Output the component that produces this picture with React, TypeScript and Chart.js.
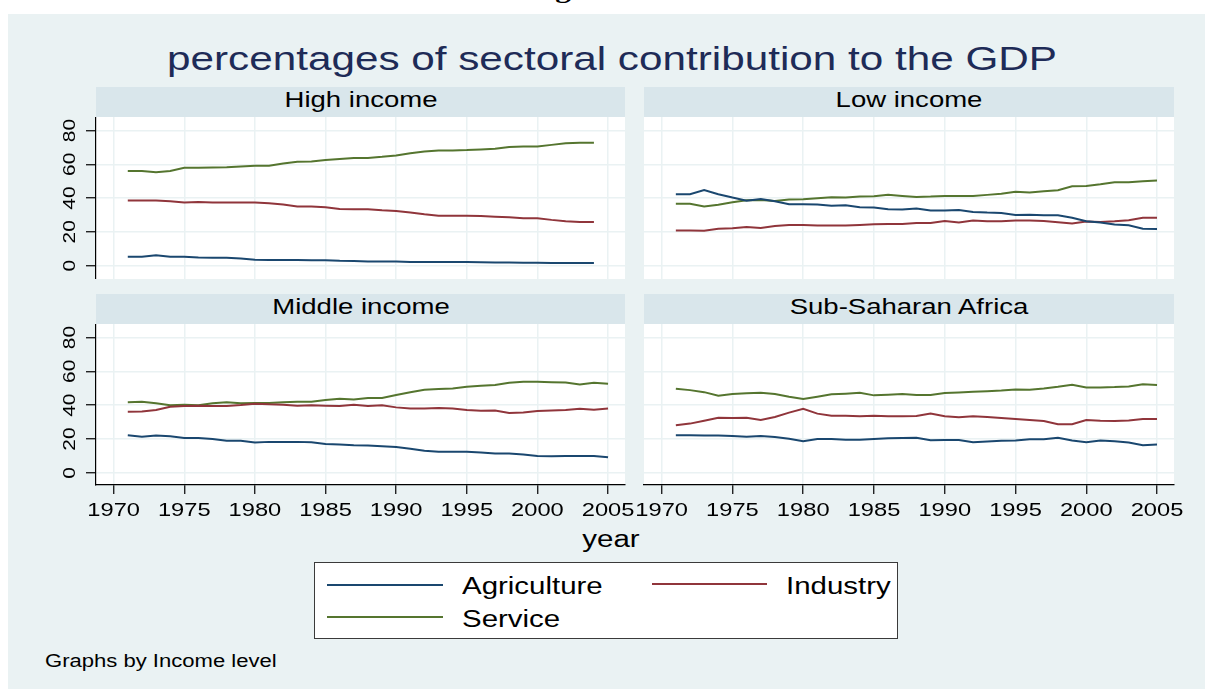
import React, { useEffect, useRef } from 'react';
import { Chart, registerables } from 'chart.js';

Chart.register(...registerables);

// ---------------- data ----------------
const YEARS = [
  1971, 1972, 1973, 1974, 1975, 1976, 1977, 1978, 1979, 1980,
  1981, 1982, 1983, 1984, 1985, 1986, 1987, 1988, 1989, 1990,
  1991, 1992, 1993, 1994, 1995, 1996, 1997, 1998, 1999, 2000,
  2001, 2002, 2003, 2004, 2005,
];
const X_TICKS = [1970, 1975, 1980, 1985, 1990, 1995, 2000, 2005];
const Y_TICKS = [0, 20, 40, 60, 80];
const SERIES_NAMES = ['Agriculture', 'Industry', 'Service'];
const PANEL_NAMES = ['High income', 'Low income', 'Middle income', 'Sub-Saharan Africa'];

// High income (1971-2004)
const HIGH_AGRI = [5.3, 5.3, 6.1, 5.3, 5.3, 4.9, 4.7, 4.7, 4.3, 3.5, 3.4, 3.4, 3.4, 3.2, 3.2, 2.9, 2.8, 2.5, 2.4, 2.4, 2.2, 2.2, 2.1, 2.1, 2.1, 2.0, 1.9, 1.8, 1.7, 1.7, 1.6, 1.6, 1.6, 1.6];
const HIGH_IND = [38.5, 38.5, 38.5, 38.1, 37.4, 37.7, 37.4, 37.4, 37.4, 37.4, 37.0, 36.2, 35.0, 35.0, 34.6, 33.6, 33.4, 33.4, 32.8, 32.4, 31.4, 30.4, 29.6, 29.6, 29.6, 29.4, 29.0, 28.7, 28.1, 28.1, 27.1, 26.3, 25.9, 25.9];
const HIGH_SERV = [56.1, 56.0, 55.3, 56.1, 57.9, 57.9, 58.1, 58.3, 58.7, 59.1, 59.1, 60.5, 61.5, 61.7, 62.5, 63.2, 63.8, 63.8, 64.4, 65.2, 66.6, 67.6, 68.2, 68.2, 68.4, 68.8, 69.2, 70.2, 70.6, 70.6, 71.5, 72.5, 72.7, 72.7];

// Low income (1971-2005)
const LOW_AGRI = [42.3, 42.3, 44.7, 42.3, 40.3, 38.5, 39.5, 38.1, 36.4, 36.4, 36.2, 35.4, 35.8, 34.6, 34.4, 33.4, 33.2, 33.8, 32.6, 32.6, 33.0, 31.8, 31.4, 31.2, 30.0, 30.2, 29.8, 29.8, 28.3, 26.3, 25.5, 24.3, 23.9, 21.9, 21.7];
const LOW_IND = [20.8, 20.8, 20.6, 21.9, 22.1, 22.9, 22.3, 23.5, 24.1, 24.1, 23.7, 23.7, 23.7, 24.1, 24.5, 24.7, 24.7, 25.3, 25.3, 26.5, 25.5, 26.7, 26.3, 26.3, 26.7, 26.7, 26.5, 25.7, 24.9, 26.1, 25.9, 26.3, 26.9, 28.3, 28.3];
const LOW_SERV = [36.6, 36.6, 35.0, 36.0, 37.5, 38.7, 38.9, 38.3, 39.1, 39.3, 39.9, 40.5, 40.3, 40.9, 41.1, 41.9, 41.3, 40.7, 40.9, 41.3, 41.3, 41.3, 41.9, 42.5, 43.7, 43.3, 44.1, 44.7, 47.0, 47.2, 48.2, 49.4, 49.4, 50.0, 50.4];

// Middle income (1971-2005)
const MID_AGRI = [22.2, 21.4, 22.0, 21.6, 20.6, 20.6, 20.0, 18.9, 18.9, 17.9, 18.3, 18.3, 18.3, 18.1, 17.1, 16.7, 16.3, 16.1, 15.7, 15.3, 14.3, 13.0, 12.4, 12.4, 12.4, 12.0, 11.4, 11.4, 10.8, 10.0, 9.8, 10.0, 10.0, 10.0, 9.2];
const MID_IND = [36.1, 36.3, 37.1, 39.1, 39.5, 39.7, 39.5, 39.5, 40.1, 40.9, 40.5, 40.3, 39.7, 39.9, 39.7, 39.5, 40.3, 39.5, 39.9, 38.7, 38.1, 38.1, 38.3, 38.1, 37.1, 36.7, 36.9, 35.4, 35.6, 36.5, 36.9, 37.1, 37.9, 37.3, 38.1];
const MID_SERV = [41.7, 42.0, 41.1, 39.9, 40.3, 39.9, 41.1, 41.7, 41.1, 41.3, 41.3, 41.7, 42.0, 42.0, 43.0, 43.8, 43.4, 44.2, 44.2, 46.0, 47.7, 49.1, 49.5, 49.9, 50.9, 51.5, 51.9, 53.2, 53.8, 53.8, 53.6, 53.4, 52.3, 53.2, 52.7];

// Sub-Saharan Africa (1971-2005)
const SSA_AGRI = [22.2, 22.2, 22.0, 22.0, 21.8, 21.4, 21.8, 21.2, 20.2, 18.7, 20.0, 20.0, 19.6, 19.6, 20.0, 20.4, 20.6, 20.8, 19.3, 19.4, 19.4, 18.1, 18.5, 18.9, 19.1, 19.8, 19.8, 20.8, 19.1, 18.1, 19.1, 18.7, 17.9, 16.3, 16.7];
const SSA_IND = [28.1, 29.1, 30.8, 32.6, 32.4, 32.6, 31.2, 33.0, 35.6, 37.9, 35.0, 33.8, 33.8, 33.4, 33.8, 33.4, 33.4, 33.6, 35.0, 33.4, 32.8, 33.4, 33.0, 32.4, 31.8, 31.2, 30.6, 28.7, 28.7, 31.2, 30.8, 30.6, 31.0, 31.8, 31.8];
const SSA_SERV = [49.7, 48.9, 47.7, 45.6, 46.6, 47.0, 47.3, 46.6, 45.0, 43.6, 45.0, 46.4, 46.8, 47.3, 45.8, 46.2, 46.6, 46.0, 46.0, 47.2, 47.5, 47.9, 48.3, 48.7, 49.3, 49.1, 49.9, 50.9, 52.1, 50.5, 50.5, 50.7, 51.1, 52.3, 51.9];

// ---------------- style ----------------
const COLORS = ['#1A476F', '#90353B', '#55752F'];
const PAGE_BG = '#EAF2F3';
const HEADER_BG = '#D9E6EB';
const GRID = '#EAF2F3';
const FONT = '"Liberation Sans", Arial, Helvetica, sans-serif';
const STRETCH = 1.28;

const decoPlugin = {
  id: 'deco',
  beforeDraw(chart: any) {
    const { ctx, chartArea: a } = chart;
    ctx.save();
    ctx.fillStyle = '#ffffff';
    ctx.fillRect(a.left, a.top, a.right - a.left, a.bottom - a.top);
    ctx.restore();
  },
  afterDraw(chart: any, _args: any, opts: any) {
    const { ctx, chartArea: a } = chart;
    ctx.save();
    ctx.fillStyle = '#000';
    ctx.textBaseline = 'alphabetic';
    ctx.textAlign = 'center';
    if (opts.xLabels) {
      const sc = chart.scales.x;
      ctx.font = `18.5px ${FONT}`;
      sc.ticks.forEach((t: any) => {
        const px = sc.getPixelForValue(t.value);
        ctx.save();
        ctx.translate(px, a.bottom + 30.7);
        ctx.scale(STRETCH, 1);
        ctx.fillText(String(t.value), 0, 0);
        ctx.restore();
      });
    }
    if (opts.yLabels) {
      const sc = chart.scales.y;
      ctx.font = `16.5px ${FONT}`;
      sc.ticks.forEach((t: any) => {
        const py = sc.getPixelForValue(t.value);
        ctx.save();
        ctx.translate(a.left - 21, py);
        ctx.rotate(-Math.PI / 2);
        ctx.scale(1.27, 1);
        ctx.fillText(String(t.value), 0, 0);
        ctx.restore();
      });
    }
    ctx.restore();
  },
};

type PanelCfg = {
  name: string;
  series: number[][];
  x: number; y: number; w: number; h: number;
  padL: number; padR: number;
  showY: boolean; showX: boolean;
  yMin: number;
};

function Panel({ cfg }: { cfg: PanelCfg }) {
  const ref = useRef<HTMLCanvasElement>(null);
  useEffect(() => {
    const chart = new Chart(ref.current as HTMLCanvasElement, {
      type: 'line',
      data: {
        datasets: cfg.series.map((vals, si) => ({
          label: SERIES_NAMES[si],
          data: vals.map((v, i) => ({ x: YEARS[i], y: v })),
          borderColor: COLORS[si],
          backgroundColor: COLORS[si],
          borderWidth: 2,
          pointRadius: 0,
          tension: 0,
          fill: false,
        })),
      },
      options: {
        animation: false,
        responsive: false,
        maintainAspectRatio: false,
        devicePixelRatio: 1,
        layout: { padding: { left: cfg.padL, right: cfg.padR, top: 0, bottom: 0 } },
        plugins: {
          legend: { display: false },
          tooltip: { enabled: false },
          title: { display: false },
          deco: { xLabels: cfg.showX, yLabels: cfg.showY },
        } as any,
        scales: {
          x: {
            type: 'linear',
            min: 1968.75,
            max: 2006.2,
            afterBuildTicks: (s: any) => { s.ticks = X_TICKS.map((v) => ({ value: v })); },
            afterFit: (s: any) => { s.height = cfg.showX ? 40 : 0; },
            ticks: { display: false },
            grid: { color: GRID, lineWidth: 1.5, drawTicks: cfg.showX, tickLength: 9, tickColor: '#000', tickWidth: 1.2 },
            border: { display: cfg.showX, color: '#000', width: 1.2 },
          },
          y: {
            type: 'linear',
            min: cfg.yMin,
            max: 88,
            afterBuildTicks: (s: any) => { s.ticks = Y_TICKS.map((v) => ({ value: v })); },
            afterFit: (s: any) => { s.width = cfg.showY ? 56 : 0; },
            ticks: { display: false },
            grid: { color: GRID, lineWidth: 1.5, drawTicks: cfg.showY, tickLength: 10, tickColor: '#000', tickWidth: 1.2 },
            border: { display: cfg.showY, color: '#000', width: 1.2 },
          },
        } as any,
      },
      plugins: [decoPlugin as any],
    });
    return () => chart.destroy();
  }, []);
  return (
    <canvas
      ref={ref}
      width={cfg.w}
      height={cfg.h}
      style={{ position: 'absolute', left: cfg.x, top: cfg.y, width: cfg.w, height: cfg.h }}
    />
  );
}

function Txt(props: {
  x: number; y: number; s: string; fs: number; sx?: number; align?: 'center' | 'left';
  color?: string; family?: string; weight?: number;
}) {
  const { x, y, s, fs, sx = STRETCH, align = 'center', color = '#000', family = FONT, weight = 400 } = props;
  const style: React.CSSProperties = {
    position: 'absolute',
    left: x,
    top: y - 0.8465 * fs,
    fontSize: fs,
    lineHeight: `${fs}px`,
    fontFamily: family,
    fontWeight: weight,
    color,
    whiteSpace: 'nowrap',
    transform: align === 'center' ? `translateX(-50%) scaleX(${sx})` : `scaleX(${sx})`,
    transformOrigin: align === 'center' ? 'center center' : 'left center',
  };
  return <div style={style}>{s}</div>;
}

export default function App() {
  const panels: PanelCfg[] = [
    { name: PANEL_NAMES[0], series: [HIGH_AGRI, HIGH_IND, HIGH_SERV], x: 40, y: 117, w: 600, h: 162, padL: 0, padR: 15, showY: true, showX: false, yMin: -7.9 },
    { name: PANEL_NAMES[1], series: [LOW_AGRI, LOW_IND, LOW_SERV], x: 620, y: 117, w: 570, h: 162, padL: 24, padR: 16, showY: false, showX: false, yMin: -7.9 },
    { name: PANEL_NAMES[2], series: [MID_AGRI, MID_IND, MID_SERV], x: 40, y: 324, w: 600, h: 201, padL: 0, padR: 15, showY: true, showX: true, yMin: -7.2 },
    { name: PANEL_NAMES[3], series: [SSA_AGRI, SSA_IND, SSA_SERV], x: 620, y: 324, w: 570, h: 201, padL: 24, padR: 16, showY: false, showX: true, yMin: -7.2 },
  ];
  const headers = [
    { left: 96, top: 87, width: 529 },
    { left: 644, top: 87, width: 530 },
    { left: 96, top: 294, width: 529 },
    { left: 644, top: 294, width: 530 },
  ];

  return (
    <div style={{ position: 'absolute', left: 0, top: 0, width: 1205, height: 691, background: '#fff', overflow: 'hidden' }}>
      <Txt x={563} y={-2} s="g" fs={24} sx={1.3} family={'"Liberation Serif", serif'} weight={700} />
      <div style={{ position: 'absolute', left: 8, top: 14, width: 1197, height: 675, background: PAGE_BG }} />
      <Txt x={612} y={70} s="percentages of sectoral contribution to the GDP" fs={33} color="#1E2B57" />
      {headers.map((h, i) => (
        <div key={i} style={{ position: 'absolute', left: h.left, top: h.top, width: h.width, height: 30, background: HEADER_BG }} />
      ))}
      {headers.map((h, i) => (
        <Txt key={'t' + i} x={h.left + h.width / 2} y={h.top + 21.5} s={PANEL_NAMES[i]} fs={21.5} />
      ))}
      {panels.map((p, i) => (
        <Panel key={i} cfg={p} />
      ))}
      <Txt x={611} y={547} s="year" fs={23} />
      <div style={{ position: 'absolute', left: 314, top: 562, width: 582, height: 75, background: '#fff', border: '1.5px solid #3a3a3a' }} />
      <div style={{ position: 'absolute', left: 327, top: 583.8, width: 116, height: 2.5, background: COLORS[0] }} />
      <div style={{ position: 'absolute', left: 652, top: 582.8, width: 115, height: 2.5, background: COLORS[1] }} />
      <div style={{ position: 'absolute', left: 327, top: 615.8, width: 116, height: 2.5, background: COLORS[2] }} />
      <Txt x={461.7} y={594} s={SERIES_NAMES[0]} fs={23} align="left" />
      <Txt x={786} y={594} s={SERIES_NAMES[1]} fs={23} align="left" />
      <Txt x={461.7} y={627} s={SERIES_NAMES[2]} fs={23} align="left" />
      <Txt x={45} y={667.7} s="Graphs by Income level" fs={17.5} align="left" sx={1.26} />
    </div>
  );
}
